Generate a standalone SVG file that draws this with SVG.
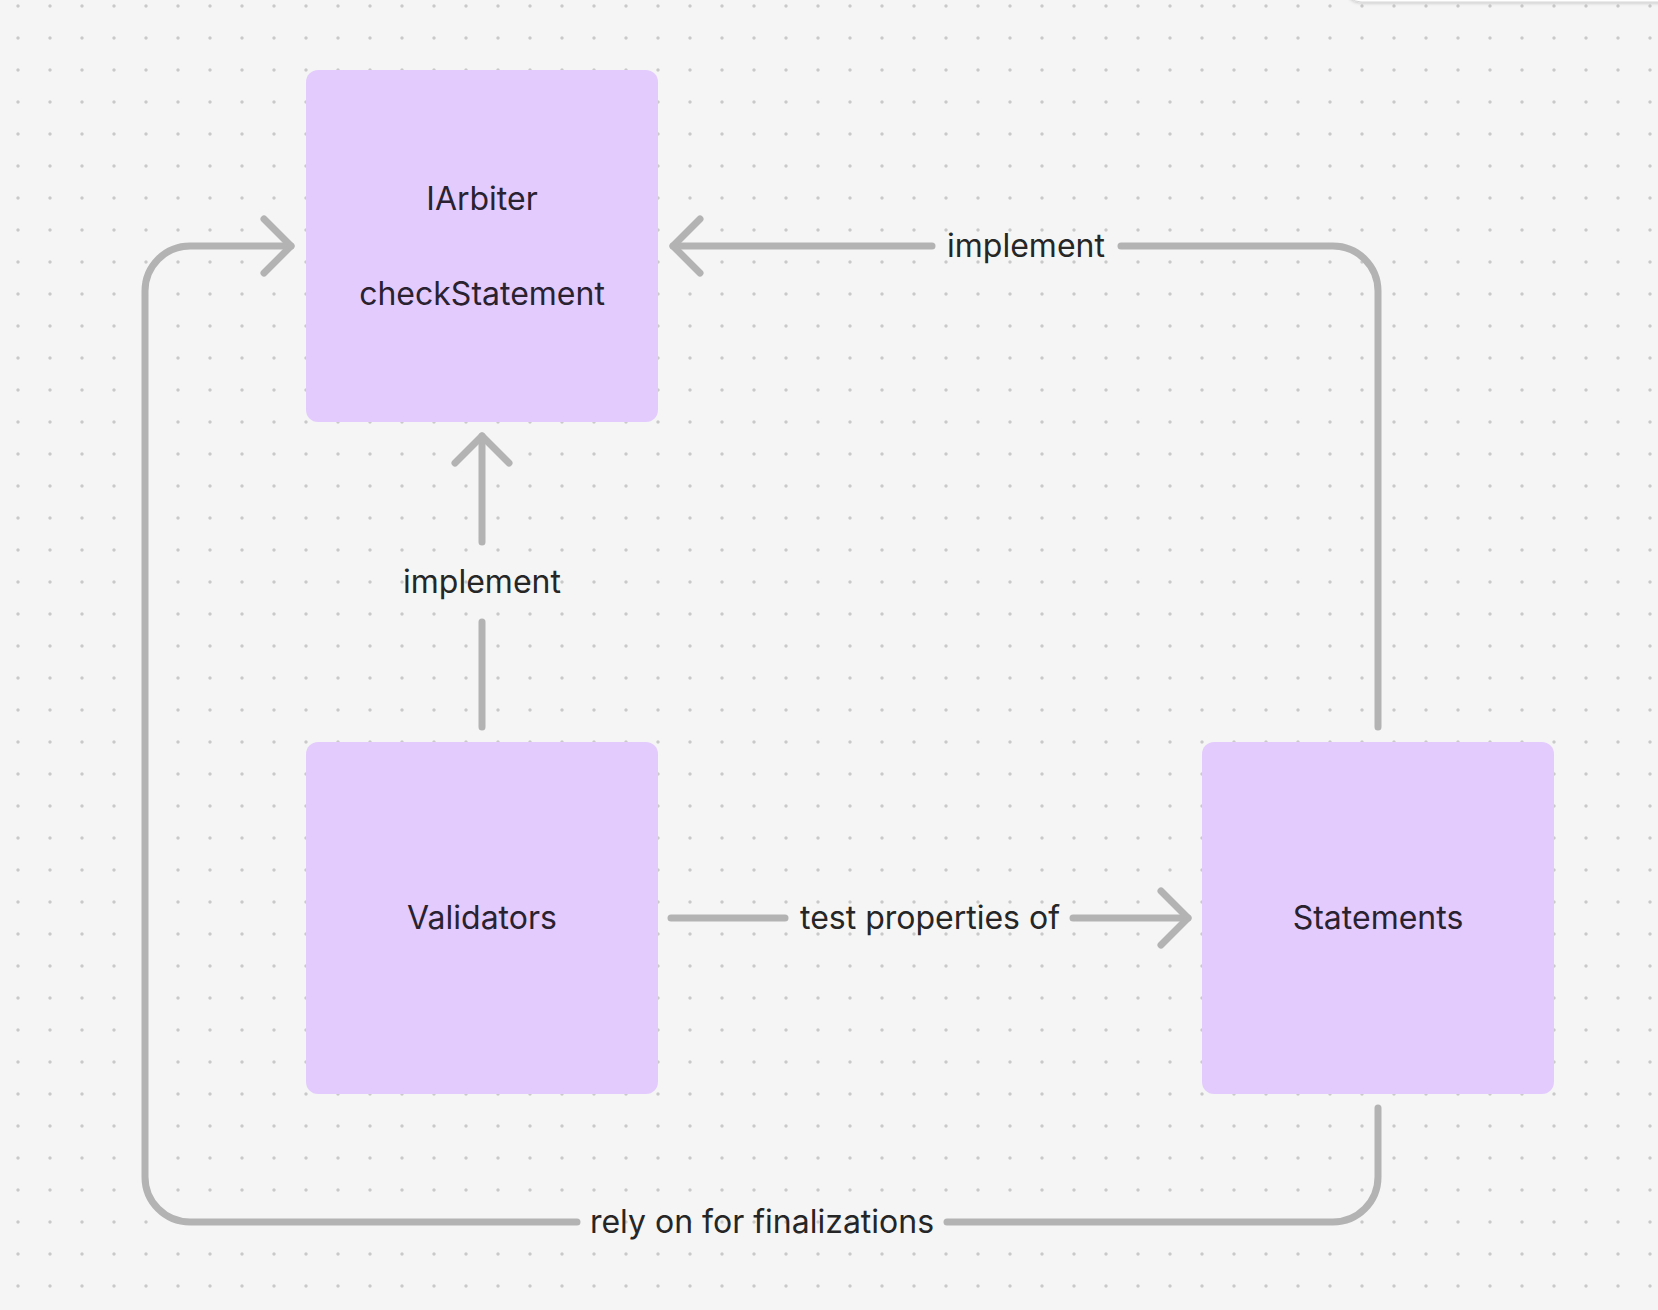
<svg xmlns="http://www.w3.org/2000/svg" width="1658" height="1310" viewBox="0 0 1658 1310">
<defs>
<pattern id="dots" x="2" y="-10" width="32" height="32" patternUnits="userSpaceOnUse">
<circle cx="16" cy="16" r="1.7" fill="#c9c9c9"/>
</pattern>
<filter id="sh" x="-10%" y="-50%" width="120%" height="200%">
<feDropShadow dx="0" dy="1" stdDeviation="1.5" flood-color="#000" flood-opacity="0.18"/>
</filter>
</defs>
<style>
.node{fill:#e3ccfd}
.ntext{font-family:Inter,"Liberation Sans",sans-serif;font-size:32px;fill:#2a2230;text-anchor:middle}
.ltext{font-family:Inter,"Liberation Sans",sans-serif;font-size:32px;fill:#262626;text-anchor:middle}
.conn{fill:none;stroke:#b3b3b3;stroke-width:7;stroke-linecap:round;stroke-linejoin:round}
</style>
<rect width="1658" height="1310" fill="#f5f5f5"/>
<rect width="1658" height="1310" fill="url(#dots)"/>
<rect x="1345" y="-40" width="360" height="42" rx="16" fill="#ffffff" stroke="#d6d6d6" stroke-width="1" filter="url(#sh)"/>

<g id="node-iarbiter">
<rect class="node" x="306" y="70" width="352" height="352" rx="12"/>
<text class="ntext" x="482" y="210">IArbiter</text>
<text class="ntext" x="482" y="305">checkStatement</text>
</g>
<g id="node-validators">
<rect class="node" x="306" y="742" width="352" height="352" rx="12"/>
<text class="ntext" x="482" y="929">Validators</text>
</g>
<g id="node-statements">
<rect class="node" x="1202" y="742" width="352" height="352" rx="12"/>
<text class="ntext" x="1378" y="929">Statements</text>
</g>

<g id="connectors">
<g id="c-validators-iarbiter">
<path class="conn" d="M482 727 V622"/>
<path class="conn" d="M482 542 V436"/>
<path class="conn" d="M455 463 L482 436 L509 463"/>
<text class="ltext" x="482" y="593">implement</text>
</g>
<g id="c-statements-iarbiter">
<path class="conn" d="M1378 727 V291 A45 45 0 0 0 1333 246 H1121"/>
<path class="conn" d="M932 246 H673"/>
<path class="conn" d="M700 219 L673 246 L700 273"/>
<text class="ltext" x="1026" y="257">implement</text>
</g>
<g id="c-validators-statements">
<path class="conn" d="M671 918 H785"/>
<path class="conn" d="M1073 918 H1188"/>
<path class="conn" d="M1161 891 L1188 918 L1161 945"/>
<text class="ltext" x="930" y="929">test properties of</text>
</g>
<g id="c-statements-iarbiter-rely">
<path class="conn" d="M1378 1108 V1177 A45 45 0 0 1 1333 1222 H947"/>
<path class="conn" d="M577 1222 H190 A45 45 0 0 1 145 1177 V291 A45 45 0 0 1 190 246 H291"/>
<path class="conn" d="M264 219 L291 246 L264 273"/>
<text class="ltext" x="762" y="1233">rely on for finalizations</text>
</g>
</g>
</svg>
